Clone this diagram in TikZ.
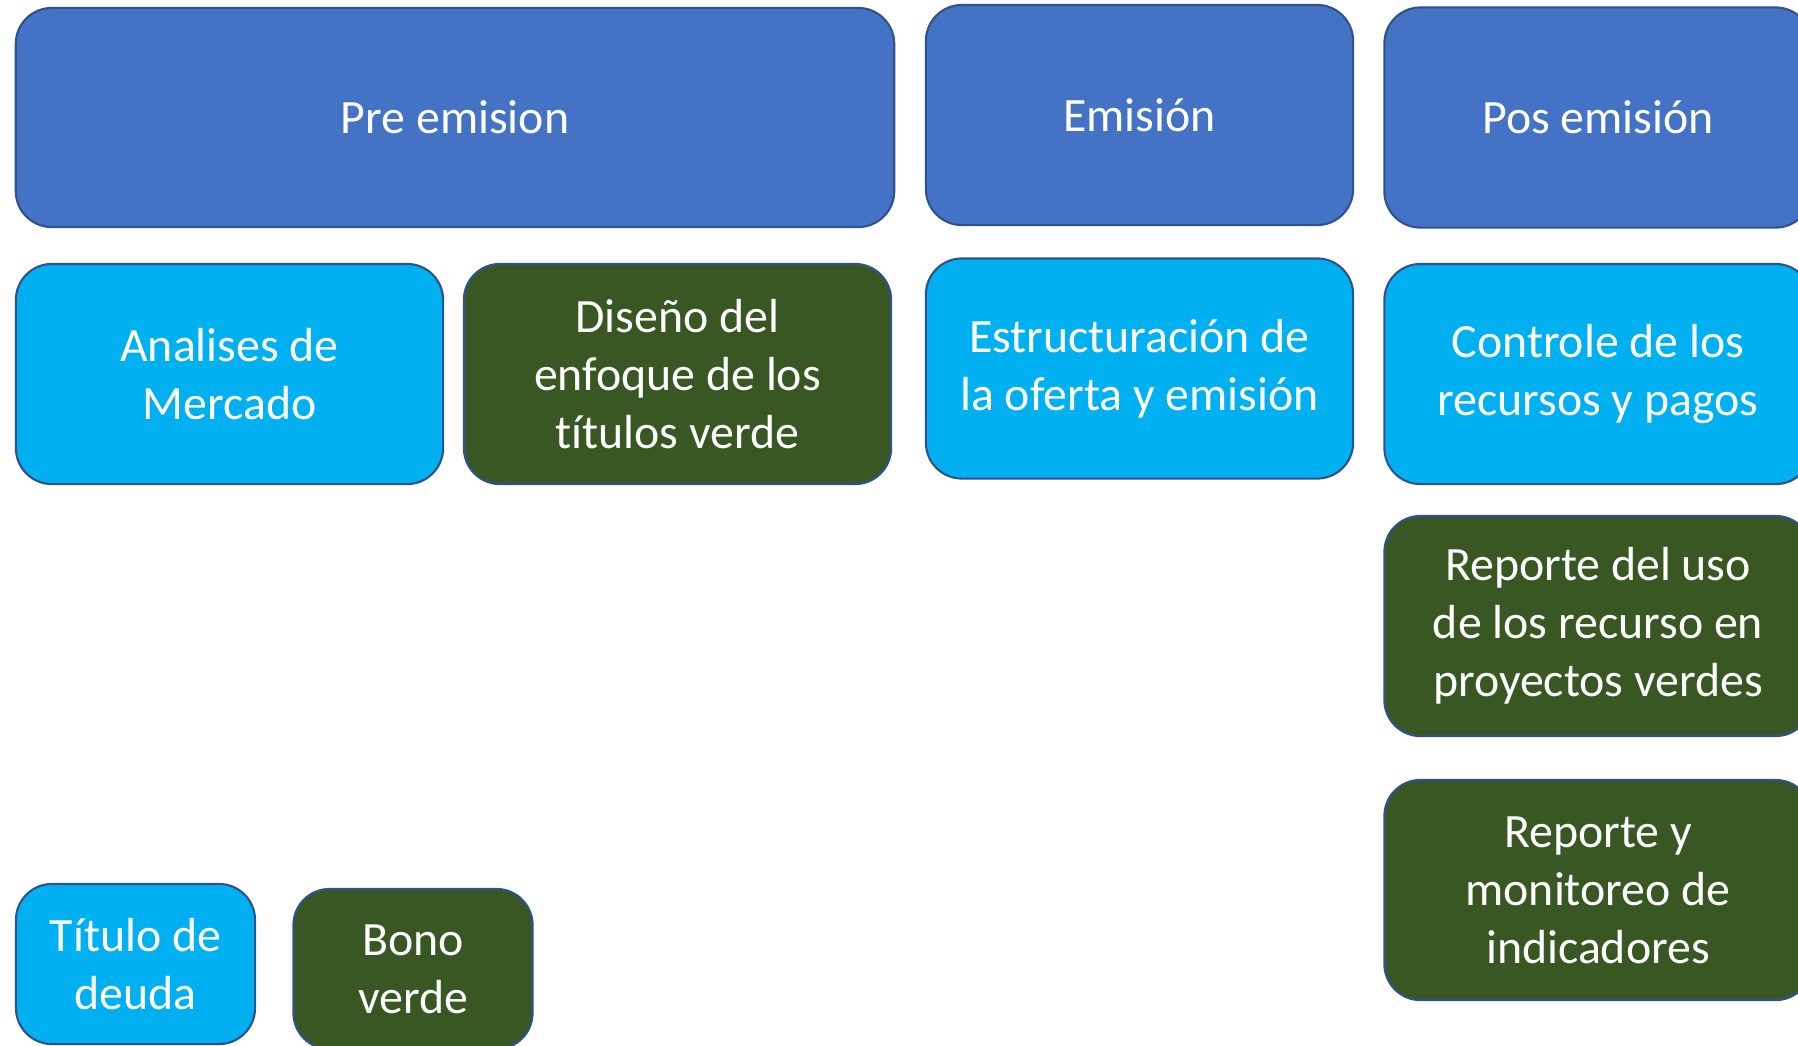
\documentclass[tikz,border=0pt]{standalone}
\usepackage{fontspec}
\setmainfont{Carlito}[Ligatures=NoCommon]

\definecolor{darkblue}{HTML}{4472C4}
\definecolor{lightblue}{HTML}{00B0F0}
\definecolor{darkgreen}{HTML}{385723}
\definecolor{edgeblue}{HTML}{2F528F}

\begin{document}
\begin{tikzpicture}[x=0.01cm, y=-0.01cm]
    \useasboundingbox (0, 0) rectangle (1798, 1045);
    \clip (0, 0) rectangle (1798, 1045);
    \begin{scope}[all/.style={draw=edgeblue, rounded corners=0.36cm, line width=0.6pt, text=white, align=center, inner sep=0pt, font=\fontsize{13.6}{16.5}\selectfont},
                  wide/.style={minimum width=4.27cm, minimum height=2.2cm},
                  small/.style={minimum width=2.39cm, minimum height=1.6cm}]
        \node[all, fill=darkblue, minimum width=8.78cm, minimum height=2.19cm] (pre) at (455, 117.5) {Pre emision};
        \node[all, wide, fill=darkblue] (emi) at (1139.5, 115) {Emisión};
        \node[all, wide, fill=darkblue] (pos) at (1598, 117.5) {Pos emisión};
        \node[all, wide, fill=lightblue] (ana) at (229.5, 374) {Analises de\\Mercado};
        \node[all, wide, fill=darkgreen] (dis) at (677.5, 374) {Diseño del\\enfoque de los\\títulos verde};
        \node[all, wide, fill=lightblue] (est) at (1139.5, 368.5) {Estructuración de\\la oferta y emisión};
        \node[all, wide, fill=lightblue] (con) at (1598, 374) {Controle de los\\recursos y pagos};
        \node[all, wide, fill=darkgreen] (rep1) at (1598, 626) {Reporte del uso\\de los recurso en\\proyectos verdes};
        \node[all, wide, fill=darkgreen] (rep2) at (1598, 890) {Reporte y\\monitoreo de\\indicadores};
        \node[all, small, fill=lightblue] (tit) at (135.5, 964) {Título de\\deuda};
        \node[all, small, fill=darkgreen] (bono) at (413, 969) {Bono\\verde};
    \end{scope}
\end{tikzpicture}
\end{document}
